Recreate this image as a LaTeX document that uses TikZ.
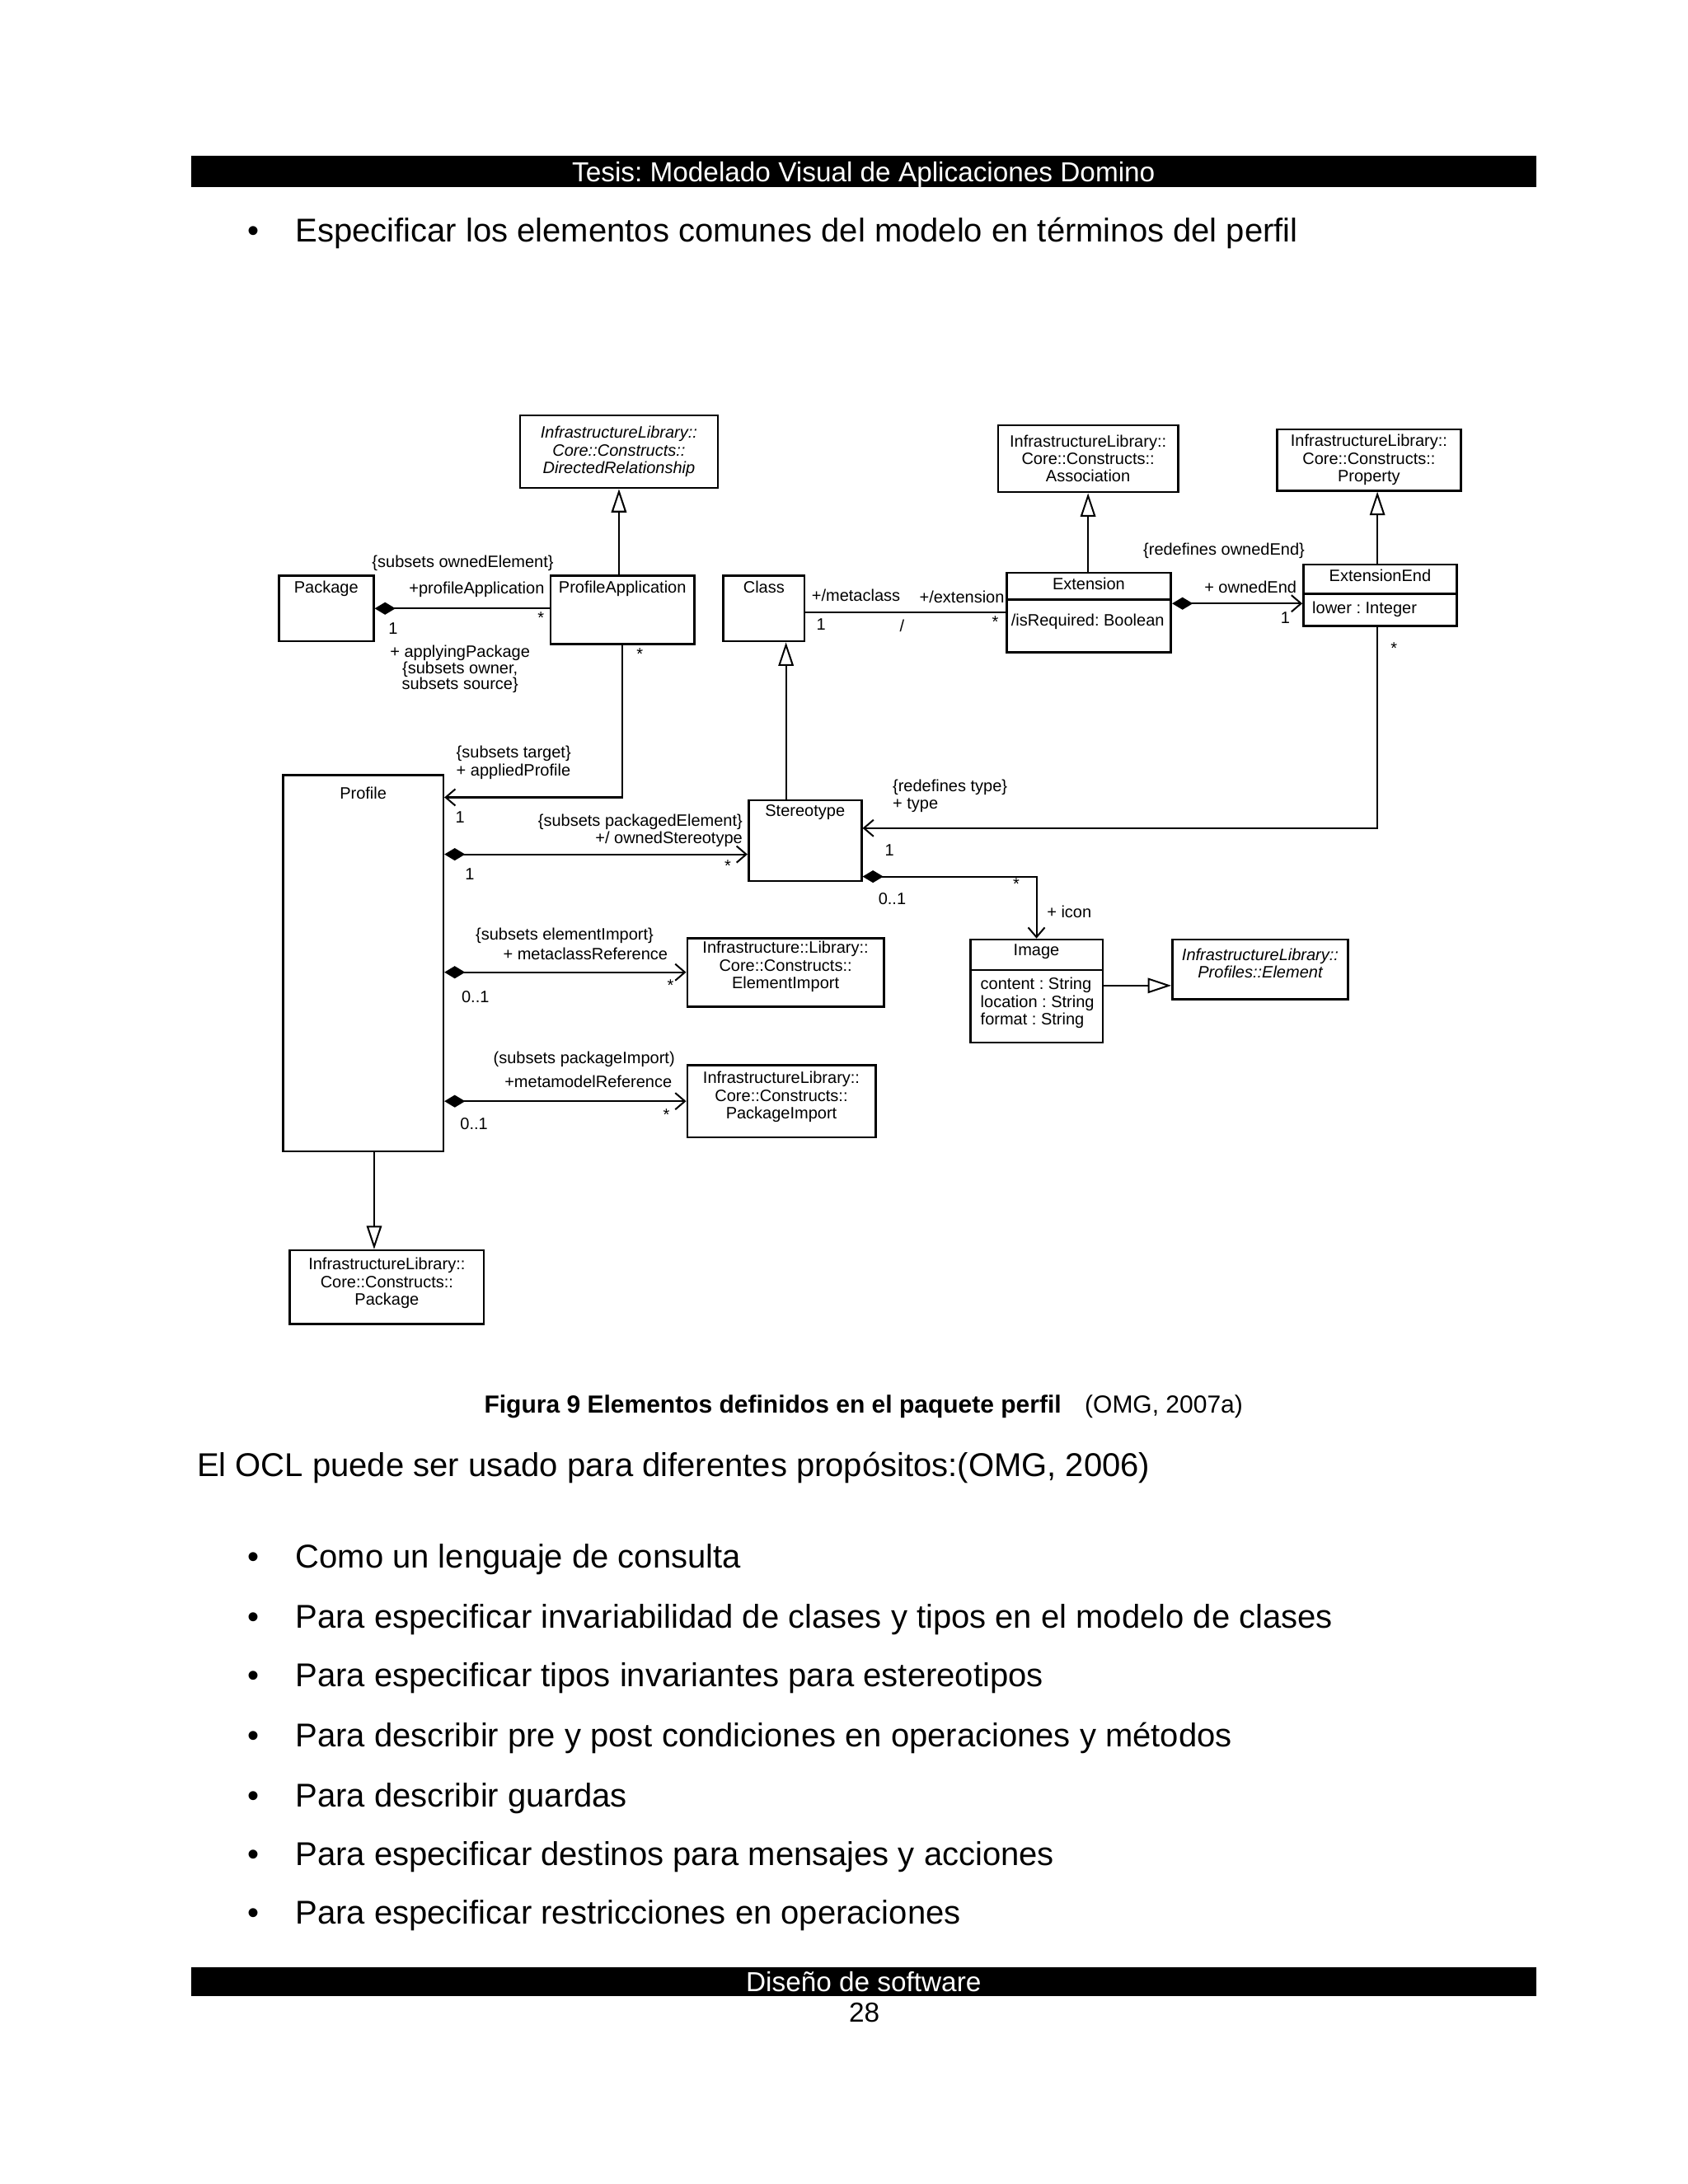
\documentclass[tikz,border=0pt]{standalone}
\usepackage{fontspec}
\setmainfont{Liberation Sans}
\usetikzlibrary{arrows.meta,fit}

\newcommand{\dia}{\fontsize{6}{6.4}\selectfont}
\newcommand{\itm}[1]{\makebox[17.5bp][l]{\textbullet}#1}

\tikzset{
  box/.style={draw, line width=0.8bp, inner sep=0pt},
  nm/.style={label={[lbl, anchor=north, yshift=-2bp]north:#1}},
  txt/.style={label={[lbl]center:#1}},
  ittxt/.style={label={[lbl, font=\dia\itshape]center:#1}},
  lbl/.style={font=\dia, inner sep=0pt, align=center},
  wire/.style={line width=0.6bp},
  gen/.style={wire, -{Triangle[open, length=8.5bp, width=5.5bp]}},
  nav/.style={wire, -{Straight Barb[length=3.5bp, width=6bp]}},
  comp/.style={wire, {Diamond[length=7.5bp, width=4.5bp]}-},
  compnav/.style={wire, {Diamond[length=7.5bp, width=4.5bp]}-{Straight Barb[length=3.5bp, width=6bp]}},
  bar/.style={fill=black, inner sep=0pt},
  bartxt/.style={text=white, font=\fontsize{10}{12}\selectfont, inner sep=0pt},
  body/.style={font=\fontsize{12}{14}\selectfont, anchor=west, inner sep=0pt},
}

\begin{document}
\frenchspacing
\begin{tikzpicture}[x=0.5055bp, y=-0.5055bp]
\useasboundingbox (0,0) rectangle (1210.7,1566.8);

% page head
\node[bar, fit={(137,112) (1102,134)}, label={[bartxt, yshift=-1.2bp]center:Tesis: Modelado Visual de Aplicaciones Domino}] (head) {};
\node[body] (spec) at (177,167) {\itm{Especificar los elementos comunes del modelo en términos del perfil}};

% classes
\node[box, ittxt={InfrastructureLibrary::\\Core::Constructs::\\DirectedRelationship}, fit={(373,298) (515,350)}] (dirrel) {};
\node[box, txt={InfrastructureLibrary::\\Core::Constructs::\\Association}, fit={(716,305) (845,353)}] (assoc) {};
\node[box, txt={InfrastructureLibrary::\\Core::Constructs::\\Property}, fit={(916,308) (1048,352)}] (prop) {};
\node[box, nm=Package, fit={(200,413) (268,460)}] (pkg) {};
\node[box, nm=ProfileApplication, fit={(395,413) (498,462)}] (profapp) {};
\node[box, nm=Class, fit={(519,413) (577,460)}] (cls) {};
\node[box, nm=Extension, fit={(722,411) (840,468)}] (ext) {};
\node[box, nm=ExtensionEnd, fit={(935,405) (1045,449)}] (extend) {};
\node[box, label={[lbl, anchor=north, yshift=-4.5bp]north:Profile}, fit={(203,556) (318,826)}] (profile) {};
\node[box, nm=Stereotype, fit={(537,574) (618,632)}] (stereo) {};
\node[box, label={[lbl, yshift=2bp]center:Infrastructure::Library::\\Core::Constructs::\\ElementImport}, fit={(493,673) (634,722)}] (elimp) {};
\node[box, nm=Image, fit={(696,674) (791,748)}] (image) {};
\node[box, label={[lbl, font=\dia\itshape, anchor=north, yshift=-3.5bp]north:InfrastructureLibrary::\\Profiles::Element}, fit={(841,674) (967,717)}] (elem) {};
\node[box, label={[lbl, yshift=1.5bp]center:InfrastructureLibrary::\\Core::Constructs::\\PackageImport}, fit={(493,764) (628,816)}] (pkgimp) {};
\node[box, label={[lbl, yshift=1.5bp]center:InfrastructureLibrary::\\Core::Constructs::\\Package}, fit={(208,897) (347,950)}] (pkgcore) {};

% compartments
\draw[line width=0.8bp] ([yshift=-10bp]ext.north west) -- ([yshift=-10bp]ext.north east);
\draw[line width=0.8bp] ([yshift=-11bp]extend.north west) -- ([yshift=-11bp]extend.north east);
\draw[line width=0.8bp] ([yshift=-11.5bp]image.north west) -- ([yshift=-11.5bp]image.north east);
\node[lbl, anchor=west] (isreq) at (725,446) {/isRequired: Boolean};
\node[lbl, anchor=west] (lower) at (941,437) {lower : Integer};
\node[lbl, anchor=north west, align=left] (imgattr) at (703,701) {content : String\\location : String\\format : String};

% generalizations
\draw[gen] (dirrel.south |- profapp.north) -- (dirrel.south);
\draw[gen] (assoc.south |- ext.north) -- (assoc.south);
\draw[gen] ([xshift=-1bp]extend.north) -- ([xshift=-1bp]extend.north |- prop.south);
\draw[gen] ([xshift=8bp]cls.south |- stereo.north) -- ([xshift=8bp]cls.south);
\draw[gen] ([yshift=2bp]image.east) -- ([yshift=2bp]image.east -| elem.west);
\draw[gen] ([xshift=4bp]profile.south) -- ([xshift=4bp]profile.south |- pkgcore.north);

% associations
\draw[comp] (pkg.east) -- (pkg.east -| profapp.west);
\draw[nav] (profapp.south) |- ([yshift=-8.5bp]profile.north east);
\draw[wire] (ext.west -| cls.east) -- (ext.west);
\draw[compnav] ([yshift=-3bp]extend.west -| ext.east) -- ([yshift=-3bp]extend.west);
\draw[nav] ([xshift=-1bp]extend.south) |- ([yshift=4.5bp]stereo.east);
\draw[compnav] ([yshift=-5bp]stereo.west -| profile.east) -- ([yshift=-5bp]stereo.west);
\draw[compnav] ([yshift=2bp]stereo.south east) -| (image.north);
\draw[compnav] (elimp.west -| profile.east) -- (elimp.west);
\draw[compnav] (pkgimp.west -| profile.east) -- (pkgimp.west);

% ends and roles
\node[lbl] (ownedel) at (332,404) {\{subsets ownedElement\}};
\node[lbl] (paRole) at (342,423) {+profileApplication};
\node[lbl] (paMult) at (388,443) {*};
\node[lbl] (pkgMult) at (282,451) {1};
\node[lbl, font=\fontsize{6}{5.8}\selectfont] (applying) at (330,480) {+ applyingPackage\\\{subsets owner,\\subsets source\}};
\node[lbl] (paProfMult) at (459,469) {*};
\node[lbl, anchor=west, align=left] (applied) at (327,547) {\{subsets target\}\\+ appliedProfile};
\node[lbl] (profMult) at (330,586) {1};
\node[lbl] (metacl) at (614,427) {+/metaclass};
\node[lbl] (extRole) at (690,428) {+/extension};
\node[lbl] (clsMult) at (589,448) {1};
\node[lbl] (slash) at (647,449) {/};
\node[lbl] (extMult) at (714,446) {*};
\node[lbl] (redefEnd) at (878,395) {\{redefines ownedEnd\}};
\node[lbl] (ownedEnd) at (897,421) {+ ownedEnd};
\node[lbl] (endMult) at (922,443) {1};
\node[lbl] (typeMult) at (1000,465) {*};
\node[lbl, anchor=west, align=left] (redefType) at (640,571) {\{redefines type\}\\+ type};
\node[lbl] (stMult) at (638,610) {1};
\node[lbl, anchor=east, align=right] (ownedSt) at (533,596) {\{subsets packagedElement\}\\+/ ownedStereotype};
\node[lbl] (profStMult) at (337,627) {1};
\node[lbl] (stStar) at (522,621) {*};
\node[lbl] (iconMult) at (640,645) {0..1};
\node[lbl] (iconStar) at (729,634) {*};
\node[lbl] (iconRole) at (767,654) {+ icon};
\node[lbl] (elimpSub) at (405,671) {\{subsets elementImport\}};
\node[lbl] (metaRef) at (420,684) {+ metaclassReference};
\node[lbl] (elimpMult) at (341,715) {0..1};
\node[lbl] (elimpStar) at (481,707) {*};
\node[lbl] (pkgimpSub) at (419,760) {(subsets packageImport)};
\node[lbl] (mmRef) at (422,776) {+metamodelReference};
\node[lbl] (pkgimpMult) at (340,806) {0..1};
\node[lbl] (pkgimpStar) at (478,800) {*};

% page text
\node[font=\fontsize{9}{11}\selectfont, anchor=west, inner sep=0pt] (caption) at (347,1009) {\textbf{Figura 9 Elementos definidos en el paquete perfil}\hspace{8.5bp}(OMG, 2007a)};
\node[body] (ocl) at (141,1053) {El OCL puede ser usado para diferentes propósitos:(OMG, 2006)};
\node[body] (it1) at (177,1119) {\itm{Como un lenguaje de consulta}};
\node[body] (it2) at (177,1162) {\itm{Para especificar invariabilidad de clases y tipos en el modelo de clases}};
\node[body] (it3) at (177,1204) {\itm{Para especificar tipos invariantes para estereotipos}};
\node[body] (it4) at (177,1247) {\itm{Para describir pre y post condiciones en operaciones y métodos}};
\node[body] (it5) at (177,1290) {\itm{Para describir guardas}};
\node[body] (it6) at (177,1332) {\itm{Para especificar destinos para mensajes y acciones}};
\node[body] (it7) at (177,1374) {\itm{Para especificar restricciones en operaciones}};
\node[bar, fit={(137,1411) (1102,1432)}, label={[bartxt]center:Diseño de software}] (foot) {};
\node[font=\fontsize{10}{12}\selectfont] (pagenum) at (620,1444) {28};
\end{tikzpicture}
\end{document}
